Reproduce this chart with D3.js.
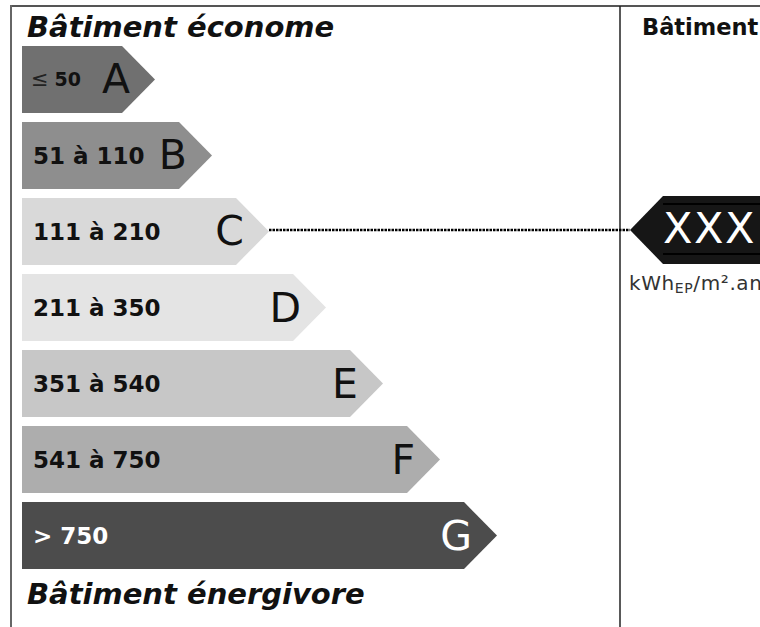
<!DOCTYPE html>
<html lang="fr">
<head>
<meta charset="UTF-8">
<title>Diagnostic de performance énergétique</title>
<script src="https://d3js.org/d3.v7.min.js"></script>
<style>
  body { margin: 0; background: #fff; }
  svg { display: block; font-family: "DejaVu Sans", Verdana, sans-serif; }
</style>
</head>
<body>
<div id="chart"></div>
<script>
// energy classes, their kWh ranges and fill greys
var classes = ["A", "B", "C", "D", "E", "F", "G"];
var ranges = ["≤ 50", "51 à 110", "111 à 210", "211 à 350", "351 à 540", "541 à 750", "> 750"];
var fills = ["#707070", "#8e8e8e", "#d9d9d9", "#e4e4e4", "#c7c7c7", "#adadad", "#4c4c4c"];
var textColors = ["#111", "#111", "#111", "#111", "#111", "#111", "#fff"];
var currentClass = "C";
var valueLabel = "XXX";
var titleTop = "Bâtiment économe";
var titleBottom = "Bâtiment énergivore";
var rightHeader = "Bâtiment";

var width = 760, height = 627;

var svg = d3.select("#chart").append("svg")
    .attr("width", width)
    .attr("height", height);

// vertical bands for each class
var y = d3.scaleBand()
    .domain(classes)
    .range([46, 569])
    .paddingInner(0.12)
    .paddingOuter(0);

// x position of each arrow tip
var tipX = d3.scaleLinear()
    .domain([0, classes.length - 1])
    .range([155, 497]);

var barLeft = 22, tipLen = 33;

// frame
svg.append("line").attr("x1", 11).attr("x2", width).attr("y1", 6).attr("y2", 6)
    .attr("stroke", "#555").attr("stroke-width", 2);
svg.append("line").attr("x1", 11).attr("x2", 11).attr("y1", 5).attr("y2", height)
    .attr("stroke", "#666").attr("stroke-width", 2);
svg.append("line").attr("x1", 620).attr("x2", 620).attr("y1", 6).attr("y2", height)
    .attr("stroke", "#222").attr("stroke-width", 1.5);

// titles
svg.append("text").attr("x", 27).attr("y", 37)
    .attr("font-size", 29).attr("font-weight", "bold").attr("font-style", "italic")
    .attr("fill", "#111").text(titleTop);
svg.append("text").attr("x", 27).attr("y", 604)
    .attr("font-size", 29).attr("font-weight", "bold").attr("font-style", "italic")
    .attr("fill", "#111").text(titleBottom);

// class arrows
var bars = svg.selectAll(".cls").data(classes).enter().append("g").attr("class", "cls");

bars.append("path")
    .attr("d", function(d, i) {
      var t = y(d), b = y(d) + y.bandwidth(), m = (t + b) / 2, tx = tipX(i);
      return "M" + barLeft + "," + t + "L" + (tx - tipLen) + "," + t + "L" + tx + "," + m +
             "L" + (tx - tipLen) + "," + b + "L" + barLeft + "," + b + "Z";
    })
    .attr("fill", function(d, i) { return fills[i]; });

// range labels
bars.each(function(d, i) {
  var m = y(d) + y.bandwidth() / 2;
  var t = d3.select(this).append("text")
      .attr("x", 31).attr("y", m + 8.5)
      .attr("fill", textColors[i]);
  var label = ranges[i];
  if (label.charAt(0) === "≤") {
    t.attr("y", m + 7);
    t.append("tspan").attr("font-size", 21).attr("fill", "#222").text("≤");
    t.append("tspan").attr("font-size", 19).attr("font-weight", "bold").attr("dx", 6)
      .text(label.slice(1).trim());
  } else {
    t.attr("x", 33).attr("font-size", 23).attr("font-weight", "bold").text(label);
  }
});

// big class letters
bars.append("text")
    .attr("x", function(d, i) { return tipX(i) - 25; })
    .attr("y", function(d) { return y(d) + y.bandwidth() / 2 + 14; })
    .attr("text-anchor", "end")
    .attr("font-size", 41)
    .attr("fill", function(d, i) { return textColors[i]; })
    .text(function(d) { return d; });

// right panel header
svg.append("text").attr("x", 642).attr("y", 35)
    .attr("font-size", 22.5).attr("font-weight", "bold").attr("fill", "#111")
    .text(rightHeader);

// value marker pointing at the current class
var ci = classes.indexOf(currentClass);
var ct = y(currentClass) - 2, cb = y(currentClass) + y.bandwidth() - 1, cm = (ct + cb) / 2;
var markTip = 630;

svg.append("line")
    .attr("x1", tipX(ci)).attr("x2", markTip)
    .attr("y1", cm).attr("y2", cm)
    .attr("stroke", "#000").attr("stroke-width", 2.5)
    .attr("stroke-dasharray", "2.5,1");

svg.append("path")
    .attr("d", "M" + markTip + "," + cm + "L" + (markTip + 33) + "," + ct + "L" + (width + 5) + "," + ct +
               "L" + (width + 5) + "," + cb + "L" + (markTip + 33) + "," + cb + "Z")
    .attr("fill", "#161616");
[ct + 8, cb - 10].forEach(function(yy) {
  svg.append("line").attr("x1", markTip + 33).attr("x2", width).attr("y1", yy).attr("y2", yy)
      .attr("stroke", "#000").attr("stroke-width", 2);
});
svg.append("text").attr("x", 663).attr("y", cm + 13)
    .attr("font-size", 43).attr("letter-spacing", 1.5).attr("fill", "#fff").text(valueLabel);

// unit
var unit = svg.append("text").attr("x", 629).attr("y", 290)
    .attr("font-size", 20).attr("letter-spacing", 0.6).attr("fill", "#333");
unit.append("tspan").text("kWh");
unit.append("tspan").attr("font-size", 14).attr("dy", 3).text("EP");
unit.append("tspan").attr("dy", -3).text("/m².an");
</script>
</body>
</html>
